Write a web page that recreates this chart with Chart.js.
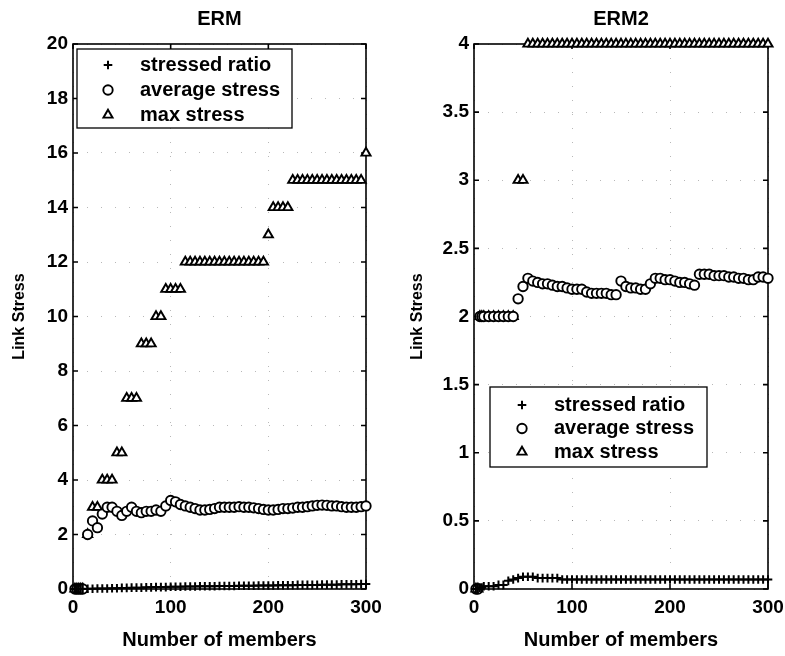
<!DOCTYPE html>
<html>
<head>
<meta charset="utf-8">
<script src="https://cdn.jsdelivr.net/npm/chart.js@4.4.1/dist/chart.umd.min.js"></script>
<style>
  html, body { margin: 0; padding: 0; background: #fff; }
  #wrap { position: relative; width: 785px; height: 656px; }
  .panel { position: absolute; top: 0; height: 656px; }
  #left { left: 0; width: 385px; }
  #right { left: 390px; width: 395px; }
</style>
</head>
<body>
<div id="wrap">
  <div class="panel" id="left"><canvas id="ermChart"></canvas></div>
  <div class="panel" id="right"><canvas id="erm2Chart"></canvas></div>
</div>
<script>
// Network size (x values) shared by both panels
const members = [2, 4, 6, 8, 10, 15, 20, 25, 30, 35, 40, 45, 50, 55, 60, 65, 70, 75, 80, 85,
  90, 95, 100, 105, 110, 115, 120, 125, 130, 135, 140, 145, 150, 155, 160, 165, 170, 175,
  180, 185, 190, 195, 200, 205, 210, 215, 220, 225, 230, 235, 240, 245, 250, 255, 260,
  265, 270, 275, 280, 285, 290, 295, 300];

const seriesNames = ['stressed ratio', 'average stress', 'max stress'];

// ERM (left panel)
const ermRatio = [0, 0, 0, 0, 0, 0.01, 0.01, 0.02, 0.02, 0.02, 0.03, 0.03, 0.04, 0.04, 0.05,
  0.05, 0.05, 0.06, 0.06, 0.07, 0.07, 0.07, 0.08, 0.08, 0.08, 0.09, 0.09, 0.09, 0.1, 0.1,
  0.1, 0.1, 0.11, 0.11, 0.11, 0.11, 0.12, 0.12, 0.12, 0.12, 0.13, 0.13, 0.13, 0.13, 0.14,
  0.14, 0.14, 0.14, 0.15, 0.15, 0.15, 0.15, 0.15, 0.16, 0.16, 0.16, 0.16, 0.17, 0.17,
  0.17, 0.17, 0.18, 0.18];
const ermAverage = [0, 0, 0, 0, 0, 2.0, 2.5, 2.25, 2.75, 3.0, 3.0, 2.85, 2.7, 2.85, 3.0, 2.85,
  2.8, 2.85, 2.85, 2.9, 2.85, 3.05, 3.25, 3.2, 3.1, 3.05, 3.0, 2.95, 2.9, 2.9, 2.92, 2.95,
  3.0, 3.0, 3.0, 3.0, 3.02, 3.0, 3.0, 2.98, 2.95, 2.92, 2.9, 2.9, 2.92, 2.95, 2.95, 2.97,
  3.0, 3.0, 3.02, 3.05, 3.07, 3.08, 3.07, 3.05, 3.05, 3.02, 3.0, 3.0, 3.0, 3.02, 3.05];
const ermMax = [0, 0, 0, 0, 0, 2, 3, 3, 4, 4, 4, 5, 5, 7, 7, 7, 9, 9, 9, 10, 10, 11, 11, 11, 11,
  12, 12, 12, 12, 12, 12, 12, 12, 12, 12, 12, 12, 12, 12, 12, 12, 12, 13, 14, 14, 14, 14,
  15, 15, 15, 15, 15, 15, 15, 15, 15, 15, 15, 15, 15, 15, 15, 16];

// ERM2 (right panel)
const erm2Ratio = [0, 0, 0.01, 0.01, 0.02, 0.02, 0.02, 0.03, 0.03, 0.06, 0.07, 0.08, 0.09, 0.09,
  0.09, 0.08, 0.08, 0.08, 0.08, 0.08, 0.07, 0.07, 0.07, 0.07, 0.07, 0.07, 0.07, 0.07, 0.07,
  0.07, 0.07, 0.07, 0.07, 0.07, 0.07, 0.07, 0.07, 0.07, 0.07, 0.07, 0.07, 0.07, 0.07, 0.07,
  0.07, 0.07, 0.07, 0.07, 0.07, 0.07, 0.07, 0.07, 0.07, 0.07, 0.07, 0.07, 0.07, 0.07, 0.07,
  0.07, 0.07, 0.07, 0.07];
const erm2Average = [0, 0, 2.0, 2.0, 2.0, 2.0, 2.0, 2.0, 2.0, 2.0, 2.0, 2.13, 2.22, 2.28, 2.26,
  2.25, 2.24, 2.24, 2.23, 2.22, 2.22, 2.21, 2.2, 2.2, 2.2, 2.18, 2.17, 2.17, 2.17, 2.17,
  2.16, 2.16, 2.26, 2.22, 2.21, 2.21, 2.2, 2.2, 2.24, 2.28, 2.28, 2.27, 2.27, 2.26, 2.25,
  2.25, 2.24, 2.23, 2.31, 2.31, 2.31, 2.3, 2.3, 2.3, 2.29, 2.29, 2.28, 2.28, 2.27, 2.27,
  2.29, 2.29, 2.28];
const erm2Max = [0, 0, 2, 2, 2, 2, 2, 2, 2, 2, 2, 3, 3, 4, 4, 4, 4, 4, 4, 4, 4, 4, 4, 4, 4, 4, 4,
  4, 4, 4, 4, 4, 4, 4, 4, 4, 4, 4, 4, 4, 4, 4, 4, 4, 4, 4, 4, 4, 4, 4, 4, 4, 4, 4, 4, 4, 4,
  4, 4, 4, 4, 4, 4];

// Tick labels
const xTicks = [0, 100, 200, 300];
const ermYTicks = [0, 2, 4, 6, 8, 10, 12, 14, 16, 18, 20];
const erm2YTicks = [0, 0.5, 1, 1.5, 2, 2.5, 3, 3.5, 4];

Chart.defaults.font.family = '"Liberation Sans", Arial, sans-serif';
Chart.defaults.color = '#000';

// Box with tick marks pointing inwards, like the original figure
const frame = {
  id: 'frame',
  beforeDatasetsDraw(chart) {
    const { ctx, chartArea: a, scales: { x, y } } = chart;
    ctx.save();
    ctx.strokeStyle = '#000';
    ctx.lineWidth = 1.6;
    ctx.strokeRect(a.left, a.top, a.right - a.left, a.bottom - a.top);
    ctx.beginPath();
    x.ticks.forEach(t => {
      const px = x.getPixelForValue(t.value);
      ctx.moveTo(px, a.bottom); ctx.lineTo(px, a.bottom - 5);
      ctx.moveTo(px, a.top); ctx.lineTo(px, a.top + 5);
    });
    y.ticks.forEach(t => {
      const py = y.getPixelForValue(t.value);
      ctx.moveTo(a.left, py); ctx.lineTo(a.left + 5, py);
      ctx.moveTo(a.right, py); ctx.lineTo(a.right - 5, py);
    });
    ctx.stroke();
    ctx.restore();
  }
};

// Legend box drawn inside the plot area
const boxLegend = {
  id: 'boxLegend',
  afterDatasetsDraw(chart, args, opts) {
    const { ctx, chartArea: a } = chart;
    const bx = a.left + opts.x, by = a.top + opts.y;
    ctx.save();
    ctx.fillStyle = '#fff';
    ctx.fillRect(bx, by, opts.width, opts.height);
    ctx.strokeStyle = '#000';
    ctx.lineWidth = 1.3;
    ctx.strokeRect(bx, by, opts.width, opts.height);
    ctx.font = 'bold 20px "Liberation Sans", Arial, sans-serif';
    ctx.textBaseline = 'middle';
    chart.data.datasets.forEach((ds, i) => {
      const ry = by + opts.firstRow + i * opts.rowGap;
      ctx.fillStyle = ds.backgroundColor;
      ctx.strokeStyle = ds.borderColor;
      ctx.lineWidth = ds.borderWidth;
      Chart.helpers.drawPoint(ctx, {
        pointStyle: ds.pointStyle, radius: ds.pointRadius,
        borderWidth: ds.borderWidth, rotation: 0
      }, bx + opts.markerX, ry);
      ctx.fillStyle = '#000';
      ctx.fillText(ds.label, bx + opts.textX, ry);
    });
    ctx.restore();
  }
};

function makeDatasets(ratio, average, max) {
  const pts = arr => members.map((m, i) => ({ x: m, y: arr[i] }));
  return [{
    label: seriesNames[0], data: pts(ratio), pointStyle: 'cross', pointRadius: 4.3,
    backgroundColor: '#000', borderColor: '#000', borderWidth: 2, clip: false
  }, {
    label: seriesNames[1], data: pts(average), pointStyle: 'circle', pointRadius: 4.7,
    backgroundColor: '#fff', borderColor: '#000', borderWidth: 1.9, clip: false
  }, {
    label: seriesNames[2], data: pts(max), pointStyle: 'triangle', pointRadius: 5.3,
    backgroundColor: '#fff', borderColor: '#000', borderWidth: 1.9, clip: false
  }];
}

function makeChart(canvasId, title, datasets, yTicks, yMax, yAxisWidth, yTitlePad, padRight, legendPos) {
  return new Chart(document.getElementById(canvasId), {
    type: 'scatter',
    data: { datasets: datasets },
    plugins: [frame, boxLegend],
    options: {
      responsive: true,
      maintainAspectRatio: false,
      animation: false,
      events: [],
      layout: { padding: { top: 0, right: padRight, bottom: 0, left: 0 } },
      scales: {
        x: {
          type: 'linear', min: 0, max: 300,
          afterBuildTicks: s => { s.ticks = xTicks.map(v => ({ value: v })); },
          afterFit: s => { s.height = 67; s.paddingRight = 0; s.paddingLeft = 0; },
          grid: { color: 'rgba(0,0,0,0.28)', drawTicks: false },
          border: { display: false, dash: [1, 13] },
          ticks: { padding: 7, font: { size: 19, weight: 'bold' }, maxRotation: 0, callback: v => String(v) },
          title: { display: true, text: 'Number of members', font: { size: 20, weight: 'bold' }, padding: { top: 0, bottom: 4 } }
        },
        y: {
          type: 'linear', min: 0, max: yMax,
          afterBuildTicks: s => { s.ticks = yTicks.map(v => ({ value: v })); },
          afterFit: s => { s.width = yAxisWidth; },
          grid: { color: 'rgba(0,0,0,0.28)', drawTicks: false },
          border: { display: false, dash: [1, 13] },
          ticks: { padding: 5, font: { size: 19, weight: 'bold' }, callback: v => String(v) },
          title: { display: true, text: 'Link Stress', font: { size: 16, weight: 'bold' }, padding: { top: yTitlePad, bottom: 0 } }
        }
      },
      plugins: {
        legend: { display: false },
        tooltip: { enabled: false },
        title: {
          display: true, text: title, fullSize: false,
          font: { size: 20, weight: 'bold' }, color: '#000',
          padding: { top: 7, bottom: 13 }
        },
        boxLegend: legendPos
      }
    }
  });
}

makeChart('ermChart', 'ERM', makeDatasets(ermRatio, ermAverage, ermMax), ermYTicks, 20, 73, 10, 19,
  { x: 4, y: 5, width: 215, height: 79, firstRow: 16, rowGap: 25, markerX: 31, textX: 63 });
makeChart('erm2Chart', 'ERM2', makeDatasets(erm2Ratio, erm2Average, erm2Max), erm2YTicks, 4, 84, 18, 17,
  { x: 16, y: 343, width: 217, height: 80, firstRow: 18, rowGap: 23.5, markerX: 32, textX: 64 });
</script>
</body>
</html>
